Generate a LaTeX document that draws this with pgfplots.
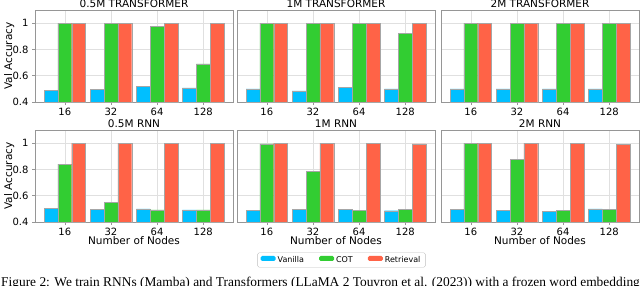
\documentclass[border=0pt]{standalone}
\usepackage{pgfplots}
\usepackage{pgfplotstable}
\pgfplotsset{compat=1.18}
\usepackage{fontspec}
\setmainfont{DejaVu Sans}
\newfontfamily\capfont{Liberation Serif}
\definecolor{cV}{RGB}{0,191,255}
\definecolor{cC}{RGB}{50,205,50}
\definecolor{cR}{RGB}{255,99,71}
\definecolor{spine}{RGB}{150,150,150}

\pgfplotstableread{
x v c r
0 0.487 1.000 1.000
1 0.497 1.000 1.000
2 0.518 0.975 1.000
3 0.508 0.690 1.000
}\tTa
\pgfplotstableread{
x v c r
0 0.500 1.000 1.000
1 0.485 1.000 1.000
2 0.510 1.000 1.000
3 0.500 0.925 1.000
}\tTb
\pgfplotstableread{
x v c r
0 0.500 1.000 1.000
1 0.500 1.000 1.000
2 0.500 1.000 1.000
3 0.500 1.000 1.000
}\tTc
\pgfplotstableread{
x v c r
0 0.505 0.840 1.000
1 0.495 0.548 1.000
2 0.500 0.492 1.000
3 0.493 0.492 1.000
}\tRa
\pgfplotstableread{
x v c r
0 0.488 0.995 1.000
1 0.495 0.787 1.000
2 0.495 0.488 1.000
3 0.486 0.495 0.995
}\tRb
\pgfplotstableread{
x v c r
0 0.497 1.000 1.000
1 0.490 0.875 1.000
2 0.480 0.490 1.000
3 0.500 0.495 0.993
}\tRc

\pgfplotsset{
  panel/.style={
    scale only axis, width=198pt, height=92pt,
    anchor=south west,
    ymin=0.4, ymax=1.1, xmin=-0.645, xmax=3.645,
    xtick={0,1,2,3}, xticklabels={16,32,64,128},
    ytick={0.4,0.6,0.8,1}, yticklabels={0.4,0.6,0.8,1},
    ybar, bar width=0.3,
    /pgf/number format/assume math mode=true,
    axis line style={spine, line width=0.6pt},
    tick style={spine, line width=0.5pt},
    major tick length=3pt, tick align=outside,
    xtick pos=bottom, ytick pos=left,
    grid=major, grid style={black!12, line width=0.5pt},
    tick label style={font=\fontsize{10}{12}\selectfont},
    xticklabel style={anchor=base, yshift=-10.7pt},
    every axis title/.style={at={(axis description cs:0.5,1.0326)}, anchor=base, font=\fontsize{10.5}{12}\selectfont},
    xlabel style={at={(axis description cs:0.5,-0.247)}, anchor=base, font=\fontsize{10.5}{12}\selectfont},
    ylabel style={at={(axis description cs:-0.116,0.5)}, anchor=base, font=\fontsize{10.5}{12}\selectfont},
  },
  noy/.style={yticklabels={}, ytick style={draw=none}},
}

\newcommand{\panel}[5]{%
\begin{axis}[panel, at={(#1,#2)}, title={#3}, #5]
\addplot[fill=cV, draw=black!35, line width=0.3pt, bar shift=-0.3] table[x=x,y=v]{#4};
\addplot[fill=cC, draw=black!35, line width=0.3pt, bar shift=0] table[x=x,y=c]{#4};
\addplot[fill=cR, draw=black!35, line width=0.3pt, bar shift=0.3] table[x=x,y=r]{#4};
\end{axis}}

\begin{document}
\begin{tikzpicture}[x=1pt,y=1pt]
\useasboundingbox (0,0) rectangle (640,285);
\clip (0,0) rectangle (640,285);
\panel{35pt}{183pt}{0.5M TRANSFORMER}{\tTa}{ylabel={Val Accuracy}}
\panel{237pt}{183pt}{1M TRANSFORMER}{\tTb}{noy}
\panel{441pt}{183pt}{2M TRANSFORMER}{\tTc}{noy}
\panel{35pt}{63pt}{0.5M RNN}{\tRa}{ylabel={Val Accuracy}, xlabel={Number of Nodes}}
\panel{237pt}{63pt}{1M RNN}{\tRb}{noy, xlabel={Number of Nodes},
  legend entries={Vanilla,COT,Retrieval},
  legend columns=3,
  legend image code/.code={\draw[#1, draw=none] (0pt,-1pt) rectangle (15pt,4pt);},
  legend style={at={(axis description cs:0.528,-0.413)}, anchor=center,
    draw=black!25, rounded corners=1.5pt, inner xsep=3pt, inner ysep=1.5pt,
    font=\fontsize{8}{9.5}\selectfont,
    /tikz/every even column/.append style={column sep=13pt}}}
\panel{441pt}{63pt}{2M RNN}{\tRc}{noy, xlabel={Number of Nodes}}
\node[anchor=base west, inner sep=0pt, font=\capfont\fontsize{13.4}{15}\selectfont] at (1,-1)
  {Figure 2: We train RNNs (Mamba) and Transformers (LLaMA 2 Touvron et al. (2023)) with a frozen word embedding};
\end{tikzpicture}
\end{document}
